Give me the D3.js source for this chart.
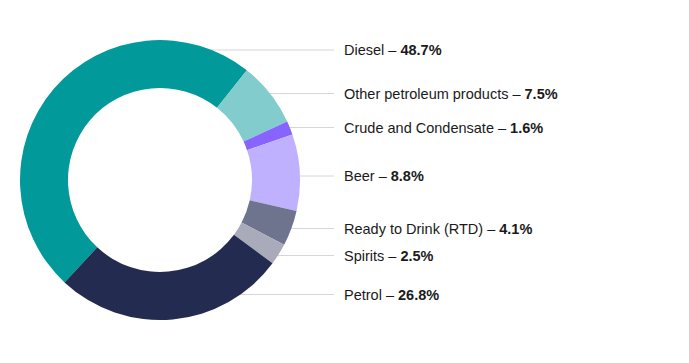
<!DOCTYPE html>
<html><head><meta charset="utf-8">
<script src="https://cdn.jsdelivr.net/npm/d3@7"></script>
<style>body{margin:0;background:#fff}svg{display:block}text{font-family:"Liberation Sans",Arial,sans-serif}</style>
</head><body>
<svg id="chart" width="689" height="363"></svg>
<script>
const categories = ["Diesel","Other petroleum products","Crude and Condensate","Beer","Ready to Drink (RTD)","Spirits","Petrol"];
const values = [48.7, 7.5, 1.6, 8.8, 4.1, 2.5, 26.8];
const colors = ["#02999b","#82cccd","#8763ff","#c0b1ff","#6f748e","#a9abba","#242b51"];
const labelY = [50, 93.5, 127.5, 176, 228.5, 255.5, 294.5];

const svg = d3.select("#chart");
const cx = 160, cy = 180, rOuter = 140, rInner = 92;
const startDeg = 223;
const pie = d3.pie().sort(null).value(d => d)
  .startAngle(startDeg * Math.PI / 180)
  .endAngle((startDeg + 360) * Math.PI / 180);
const arcs = pie(values);
const arc = d3.arc().innerRadius(rInner).outerRadius(rOuter);

const lineEnd = 334, textX = 344;
// leader lines
categories.forEach((c, i) => {
  const y = labelY[i];
  const dy = y - cy;
  const x0 = cx + Math.sqrt(Math.max(0, rOuter * rOuter - dy * dy));
  svg.append("line").attr("x1", x0 - 1).attr("x2", lineEnd).attr("y1", y).attr("y2", y)
    .attr("stroke", "#d6d6d6").attr("stroke-width", 1);
});

const g = svg.append("g").attr("transform", `translate(${cx},${cy})`);
g.selectAll("path").data(arcs).join("path")
  .attr("d", arc).attr("fill", (d, i) => colors[i]);

const t = svg.selectAll("text.lbl").data(categories).join("text")
  .attr("class", "lbl").attr("x", textX).attr("y", (d, i) => labelY[i])
  .attr("dy", "0.35em").attr("font-size", 14.5).attr("fill", "#1a1a1a");
t.append("tspan").text(d => d + " \u2013 ");
t.append("tspan").attr("font-weight", "bold").text((d, i) => values[i].toFixed(1) + "%");
</script>
</body></html>
